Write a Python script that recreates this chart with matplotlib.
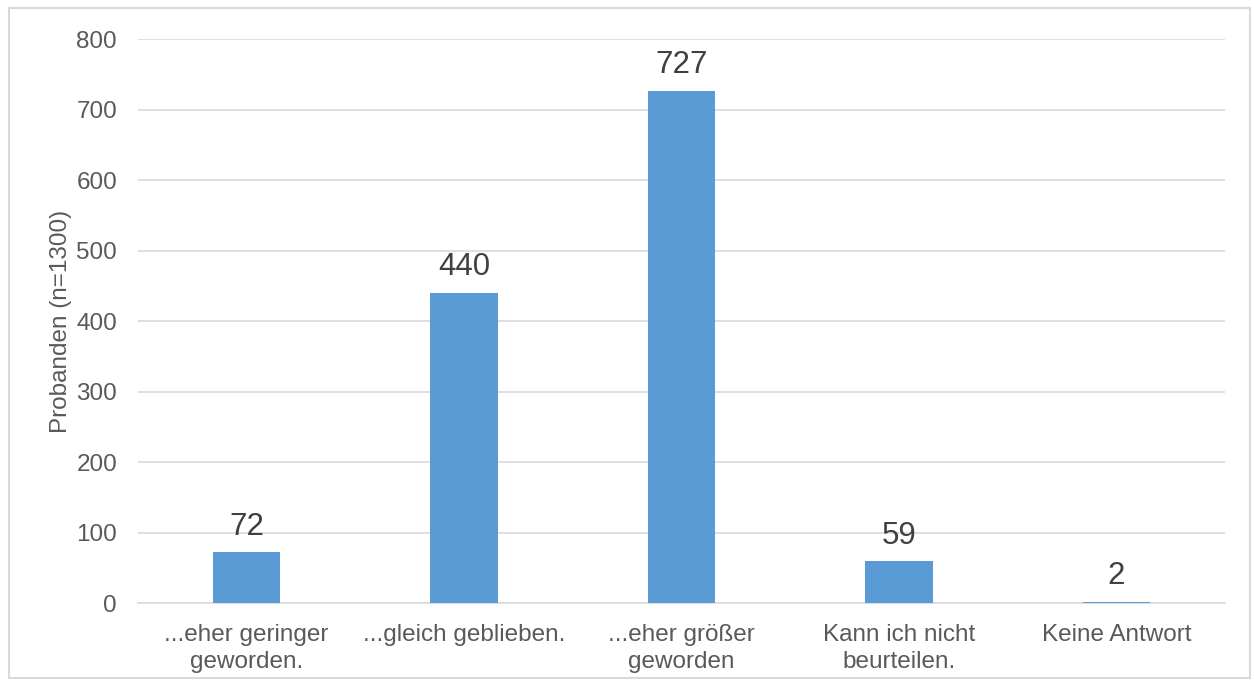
import numpy as np
import matplotlib
matplotlib.use('Agg')
import matplotlib.pyplot as plt

#-----------------------------------------------------------------------------

categories = ['...eher geringer\ngeworden.', '...gleich geblieben.',
              '...eher größer\ngeworden', 'Kann ich nicht\nbeurteilen.',
              'Keine Antwort']
values = [72, 440, 727, 59, 2]
y_ticks = [0, 100, 200, 300, 400, 500, 600, 700, 800]

plt.rcParams['font.family'] = ['Liberation Sans', 'DejaVu Sans']

#-----------------------------------------------------------------------------

fig = plt.figure(figsize=(12.54, 6.81), dpi=100)
ax = fig.add_axes([0.110, 0.1145, 0.867, 0.828])

x = np.arange(len(categories))
bars = ax.bar(x, values, width=0.31, color='#5B9BD5', zorder=3)
for xi, v in zip(x, values):
    ax.text(xi, v + 15, str(v), ha='center', va='bottom', fontsize=22.5,
            color='#404040')

ax.set_xlim(-0.5, len(categories) - 0.5)
ax.set_ylim(0, 800)
ax.set_yticks(y_ticks)
ax.set_xticks(x)
ax.set_xticklabels(categories, fontsize=17.5, color='#595959', linespacing=1.28)
ax.tick_params(axis='y', labelsize=17.5, labelcolor='#595959', length=0, pad=15)
ax.tick_params(axis='x', length=0, pad=15)
ax.yaxis.grid(True, color='#D9D9D9', linewidth=1.2, zorder=0)
for s in ['top', 'right', 'left']:
    ax.spines[s].set_visible(False)
ax.spines['bottom'].set_color('#D9D9D9')
ax.spines['bottom'].set_linewidth(1.2)
ax.set_ylabel('Probanden (n=1300)', fontsize=17.5, color='#595959', labelpad=3)

# chart border
fig.patches.append(plt.Rectangle((0.007, 0.004), 0.99, 0.984, transform=fig.transFigure,
                                 fill=False, edgecolor='#D9D9D9', linewidth=1.5))

fig.savefig('out.png', dpi=100)
